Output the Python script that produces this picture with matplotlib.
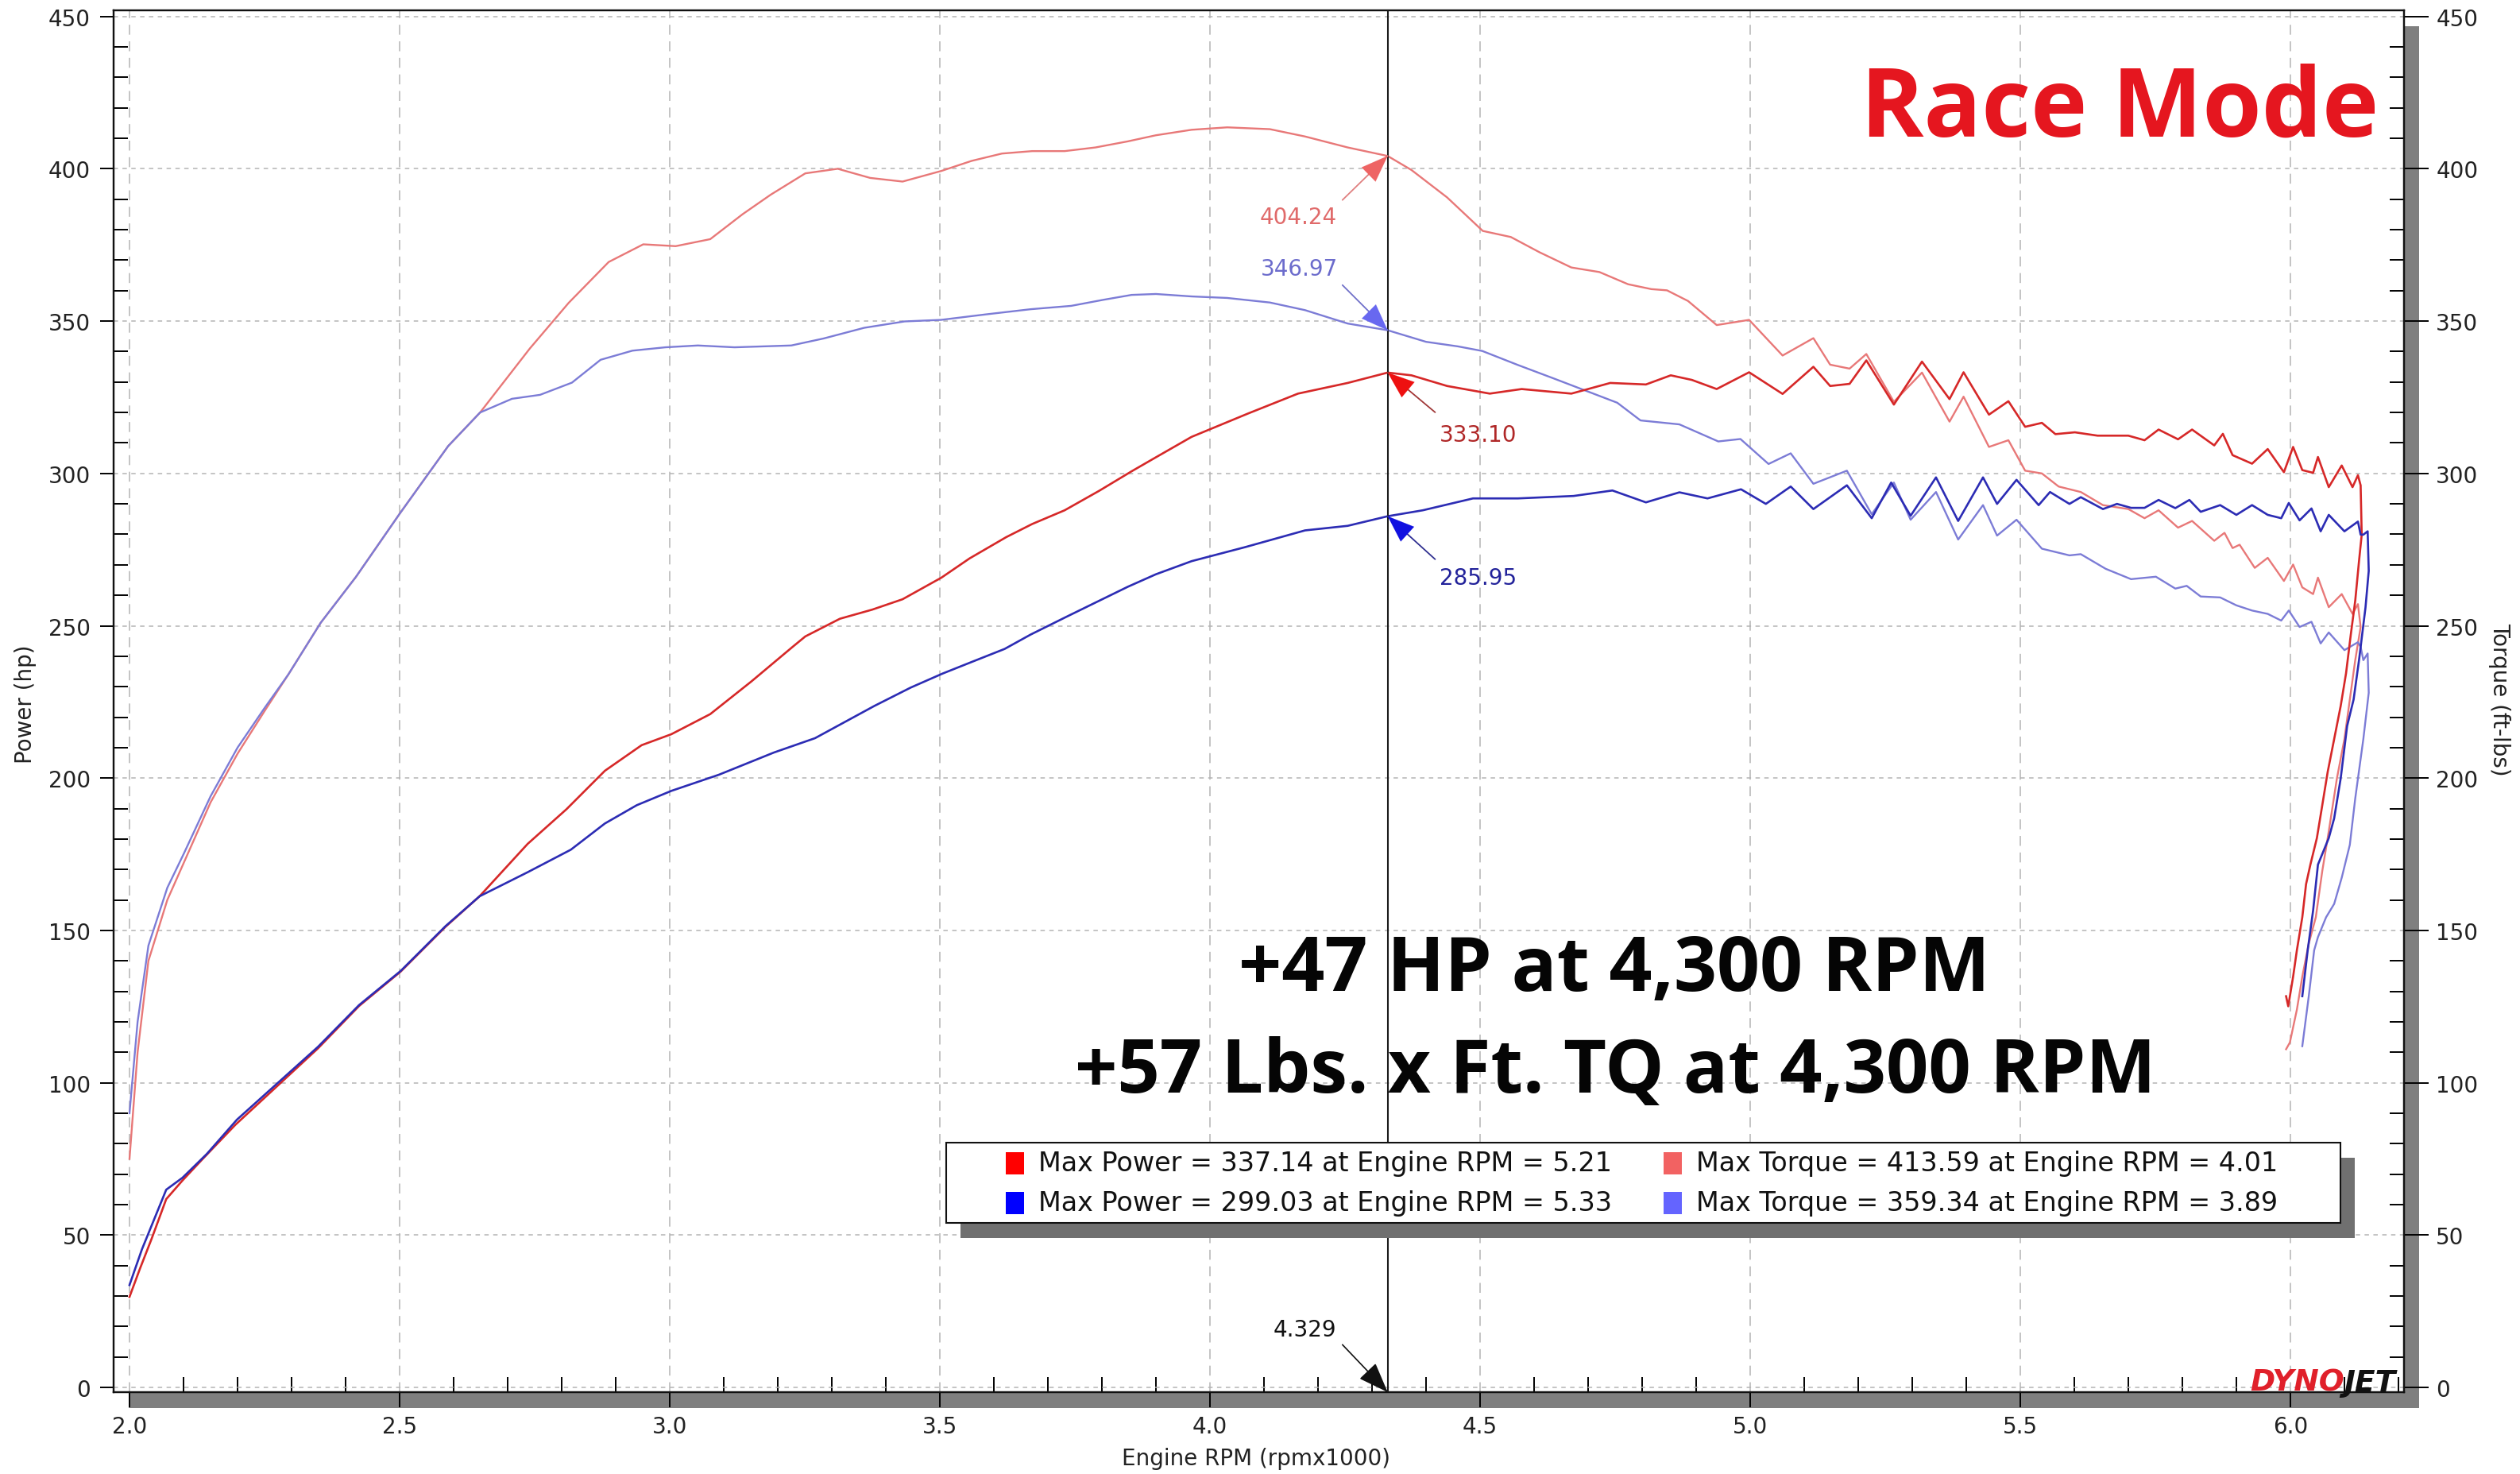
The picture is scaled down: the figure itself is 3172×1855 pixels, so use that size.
import matplotlib
matplotlib.use("Agg")
import matplotlib.pyplot as plt
from matplotlib.patches import Rectangle
from matplotlib.ticker import MultipleLocator, FormatStrFormatter

plt.rcParams['lines.scale_dashes'] = False
plt.rcParams['font.family'] = ['DejaVu Sans']

# ---------------- data (read from the dyno sheet) ----------------
# Run 1 (red) power, hp
red_power_rpm = [2.000, 2.019, 2.041, 2.068, 2.098, 2.135, 2.196, 2.349, 2.425, 2.502, 2.585, 2.648,
                 2.737, 2.809, 2.880, 2.948, 3.003, 3.075, 3.151, 3.227, 3.251, 3.315, 3.375, 3.431,
                 3.503, 3.555, 3.623, 3.671, 3.731, 3.795, 3.855, 3.900, 3.966, 4.071, 4.163, 4.255,
                 4.329, 4.373, 4.439, 4.518, 4.577, 4.669, 4.741, 4.807, 4.853, 4.892, 4.938, 4.998,
                 5.060, 5.117, 5.148, 5.184, 5.215, 5.266, 5.318, 5.369, 5.395, 5.442, 5.478, 5.509,
                 5.540, 5.565, 5.601, 5.643, 5.700, 5.730, 5.756, 5.792, 5.818, 5.859, 5.875, 5.893,
                 5.929, 5.958, 5.988, 6.005, 6.022, 6.042, 6.051, 6.071, 6.095, 6.115, 6.125, 6.130,
                 6.132, 6.127, 6.120, 6.112, 6.103, 6.093, 6.081, 6.069, 6.059, 6.049, 6.037, 6.029,
                 6.022, 6.012, 6.005, 5.996, 5.992]
red_power_hp = [29.7, 38.8, 48.8, 61.8, 67.9, 74.9, 86.2, 111.3, 125.2, 136.5, 151.2, 161.2,
                178.4, 189.8, 202.4, 210.8, 214.4, 221.0, 231.7, 243.0, 246.5, 252.3, 255.3, 258.7,
                265.8, 272.1, 279.1, 283.4, 287.9, 294.3, 300.7, 305.3, 312.0, 319.7, 326.2, 329.7,
                333.1, 332.2, 328.7, 326.2, 327.7, 326.2, 329.7, 329.2, 332.2, 330.7, 327.7, 333.2,
                326.1, 335.0, 328.7, 329.4, 337.1, 322.6, 336.7, 324.4, 333.2, 319.3, 323.7, 315.3,
                316.6, 312.9, 313.5, 312.4, 312.4, 310.9, 314.4, 311.2, 314.4, 309.2, 313.0, 306.0,
                303.2, 308.0, 300.4, 308.7, 301.1, 300.2, 305.4, 295.5, 302.6, 295.5, 299.4, 296.1,
                279.9, 271.2, 258.2, 247.4, 234.4, 223.6, 212.8, 202.0, 191.1, 180.3, 171.6, 165.2,
                154.3, 143.5, 134.8, 125.1, 128.4]

# Run 1 (light red) torque, ft-lbs
red_torque_rpm = [2.000, 2.015, 2.035, 2.070, 2.100, 2.150, 2.200, 2.250, 2.294, 2.354, 2.419, 2.501,
                  2.590, 2.649, 2.741, 2.813, 2.887, 2.951, 3.011, 3.075, 3.135, 3.187, 3.251, 3.311,
                  3.371, 3.431, 3.503, 3.559, 3.615, 3.671, 3.731, 3.788, 3.848, 3.900, 3.966, 4.032,
                  4.111, 4.176, 4.255, 4.329, 4.373, 4.439, 4.505, 4.557, 4.610, 4.669, 4.721, 4.774,
                  4.817, 4.846, 4.885, 4.938, 4.998, 5.060, 5.117, 5.148, 5.184, 5.215, 5.266, 5.318,
                  5.369, 5.395, 5.442, 5.478, 5.509, 5.540, 5.571, 5.612, 5.653, 5.700, 5.730, 5.756,
                  5.792, 5.818, 5.859, 5.878, 5.893, 5.906, 5.934, 5.958, 5.988, 6.005, 6.022, 6.042,
                  6.051, 6.071, 6.095, 6.115, 6.125, 6.130, 6.120, 6.110, 6.100, 6.086, 6.071, 6.059,
                  6.047, 6.034, 6.022, 6.012, 5.999, 5.992]
red_torque_ftlb = [75.0, 110.0, 140.0, 160.0, 172.0, 192.0, 208.0, 222.0, 234.0, 251.0, 266.0, 287.0,
                   309.0, 320.0, 341.0, 356.0, 369.4, 375.2, 374.6, 376.9, 385.1, 391.5, 398.5, 400.0,
                   397.0, 395.8, 399.3, 402.6, 405.0, 405.8, 405.8, 407.0, 409.0, 411.0, 412.8, 413.6,
                   413.0, 410.6, 407.0, 404.2, 399.6, 390.6, 379.6, 377.6, 372.6, 367.6, 366.1, 362.1,
                   360.5, 360.1, 356.6, 348.7, 350.4, 338.7, 344.4, 335.7, 334.4, 339.2, 323.5, 333.1,
                   317.0, 325.2, 308.7, 310.9, 300.9, 300.0, 295.7, 293.9, 289.6, 288.3, 285.3, 287.9,
                   282.2, 284.4, 277.9, 280.5, 275.5, 276.6, 269.0, 272.3, 264.7, 270.1, 262.6, 260.4,
                   265.8, 256.1, 260.4, 253.9, 257.1, 249.6, 238.7, 225.8, 212.8, 199.8, 182.5, 169.5,
                   154.3, 145.7, 134.8, 124.0, 113.2, 111.0]

# Run 2 (blue) power, hp
blue_power_rpm = [2.000, 2.023, 2.068, 2.098, 2.143, 2.199, 2.349, 2.425, 2.502, 2.585, 2.648, 2.737,
                  2.817, 2.880, 2.939, 3.003, 3.091, 3.193, 3.269, 3.379, 3.446, 3.505, 3.563, 3.620,
                  3.668, 3.735, 3.788, 3.848, 3.900, 3.966, 4.065, 4.176, 4.255, 4.329, 4.394, 4.487,
                  4.570, 4.673, 4.745, 4.807, 4.869, 4.921, 4.983, 5.029, 5.075, 5.117, 5.179, 5.225,
                  5.261, 5.297, 5.344, 5.385, 5.431, 5.457, 5.493, 5.534, 5.555, 5.591, 5.612, 5.653,
                  5.679, 5.705, 5.730, 5.756, 5.787, 5.813, 5.834, 5.870, 5.900, 5.929, 5.958, 5.983,
                  5.997, 6.017, 6.039, 6.056, 6.071, 6.100, 6.125, 6.130, 6.135, 6.143, 6.145, 6.139,
                  6.127, 6.117, 6.105, 6.093, 6.081, 6.071, 6.051, 6.042, 6.032, 6.022]
blue_power_hp = [33.6, 45.3, 64.9, 68.8, 76.6, 87.9, 111.8, 125.5, 136.7, 151.4, 161.2, 169.1,
                 176.5, 185.1, 191.1, 195.8, 201.1, 208.4, 213.1, 223.7, 229.7, 234.3, 238.4, 242.4,
                 247.1, 253.0, 257.6, 262.8, 266.9, 271.2, 275.8, 281.3, 282.8, 285.95, 287.9, 291.8,
                 291.8, 292.6, 294.4, 290.5, 293.8, 291.8, 294.8, 290.0, 295.7, 288.3, 296.1, 285.3,
                 297.0, 286.1, 298.7, 284.4, 298.7, 290.0, 297.9, 289.6, 293.9, 290.0, 292.2, 288.3,
                 290.0, 288.7, 288.7, 291.3, 288.6, 291.3, 287.4, 289.6, 286.4, 289.6, 286.4, 285.3,
                 290.3, 284.6, 288.5, 281.0, 286.4, 281.0, 284.2, 279.9, 279.9, 281.0, 268.0, 256.0,
                 238.7, 225.8, 217.1, 199.8, 186.8, 180.3, 171.6, 156.5, 143.5, 128.4]

# Run 2 (light blue) torque, ft-lbs
blue_torque_rpm = [2.000, 2.015, 2.035, 2.070, 2.100, 2.150, 2.200, 2.250, 2.294, 2.354, 2.419, 2.501,
                   2.590, 2.649, 2.708, 2.760, 2.819, 2.872, 2.931, 2.992, 3.052, 3.120, 3.225, 3.285,
                   3.360, 3.435, 3.502, 3.585, 3.668, 3.743, 3.803, 3.855, 3.900, 3.966, 4.032, 4.111,
                   4.176, 4.255, 4.329, 4.400, 4.459, 4.504, 4.570, 4.636, 4.695, 4.754, 4.797, 4.869,
                   4.941, 4.982, 5.034, 5.075, 5.117, 5.179, 5.225, 5.266, 5.297, 5.344, 5.385, 5.431,
                   5.457, 5.493, 5.540, 5.591, 5.612, 5.658, 5.705, 5.751, 5.787, 5.808, 5.834, 5.870,
                   5.900, 5.929, 5.958, 5.983, 5.997, 6.017, 6.039, 6.056, 6.071, 6.100, 6.125, 6.130,
                   6.135, 6.143, 6.145, 6.135, 6.120, 6.110, 6.095, 6.081, 6.066, 6.051, 6.044, 6.034,
                   6.022]
blue_torque_ftlb = [90.0, 120.0, 145.0, 164.0, 175.0, 194.0, 210.0, 223.0, 234.0, 251.0, 266.0, 287.0,
                    309.0, 320.0, 324.5, 325.8, 329.8, 337.3, 340.3, 341.4, 342.0, 341.4, 342.0, 344.3,
                    347.8, 349.9, 350.4, 352.2, 353.9, 355.0, 357.0, 358.6, 358.9, 358.1, 357.6, 356.1,
                    353.6, 349.2, 347.0, 343.2, 341.7, 340.2, 335.6, 331.2, 327.2, 323.2, 317.4, 316.1,
                    310.5, 311.3, 303.1, 306.6, 296.6, 300.9, 286.6, 297.0, 284.8, 293.9, 278.3, 289.6,
                    279.6, 284.8, 275.3, 273.1, 273.5, 268.7, 265.3, 266.1, 262.2, 263.1, 259.6, 259.3,
                    256.7, 255.0, 253.9, 251.7, 255.0, 249.6, 251.3, 244.2, 247.8, 242.0, 244.6, 243.1,
                    238.7, 240.9, 228.0, 212.8, 193.3, 178.1, 167.3, 158.7, 154.3, 147.8, 143.5, 128.4,
                    112.0]

# cursor readout
cursor_rpm = 4.329
cursor_labels = ["404.24", "346.97", "333.10", "285.95"]
cursor_values = [404.24, 346.97, 333.10, 285.95]

# legend summary
max_power = [337.14, 299.03]
max_power_rpm = [5.21, 5.33]
max_torque = [413.59, 359.34]
max_torque_rpm = [4.01, 3.89]

x_ticks = [2.0, 2.5, 3.0, 3.5, 4.0, 4.5, 5.0, 5.5, 6.0]
y_ticks = [0, 50, 100, 150, 200, 250, 300, 350, 400, 450]

# ---------------- styling ----------------
C_RED = '#D62828'
C_LRED = '#E87878'
C_BLUE = '#2C2CB4'
C_LBLUE = '#7C7CD6'
PATCH = ['#FF0000', '#F26262', '#0000FF', '#6464FF']

W, H = 3172, 1856
fig = plt.figure(figsize=(W / 100, H / 100), dpi=100)
fig.patch.set_facecolor('white')


def fx(px):
    return px / W


def fy(py):
    return 1 - py / H


# plot area (pixel box 143..3026 x 14..1753)
L, R, T, B = 143, 3026, 14, 1753
ax = fig.add_axes([fx(L), fy(B), (R - L) / W, (B - T) / H])
ax.set_facecolor('white')
ax.set_zorder(1)

# drop shadow of the plot area
fig.add_artist(Rectangle((fx(L + 19), fy(B + 20)), (R - L) / W, (B - T) / H,
                         transform=fig.transFigure, fc='#7f7f7f', ec='none', zorder=0))

XMIN, XMAX = 2.0 + (L - 163) / 680, 2.0 + (R - 163) / 680
YMIN, YMAX = (1747 - B) / 3.834, (1747 - T) / 3.834
ax.set_xlim(XMIN, XMAX)
ax.set_ylim(YMIN, YMAX)

ax2 = ax.twinx()
ax2.set_ylim(YMIN, YMAX)

for s in ax.spines.values():
    s.set_linewidth(1.6)
    s.set_color('#111111')

# grid
ax.set_xticks(x_ticks)
ax.set_yticks(y_ticks)
ax.xaxis.set_minor_locator(MultipleLocator(0.1))
ax.yaxis.set_minor_locator(MultipleLocator(10))
ax.xaxis.set_major_formatter(FormatStrFormatter('%.1f'))
ax.grid(True, axis='y', which='major', color='#b4b4b4', lw=1.1, ls=(0, (4, 4)))
ax.grid(True, axis='x', which='major', color='#b4b4b4', lw=1.1, ls=(0, (9, 6)))
ax.set_axisbelow(True)

ax.tick_params(axis='x', which='major', direction='out', length=14, width=1.4,
               pad=7, labelsize=20, labelcolor='#222222')
ax.tick_params(axis='x', which='minor', direction='in', length=14, width=1.4)
ax.tick_params(axis='y', which='major', direction='out', length=12, width=1.4,
               pad=9, labelsize=20, labelcolor='#222222')
ax.tick_params(axis='y', which='minor', direction='in', length=13, width=1.4)

ax2.set_yticks(y_ticks)
ax2.yaxis.set_minor_locator(MultipleLocator(10))
ax2.tick_params(axis='y', which='major', direction='out', length=22, width=1.4,
                pad=7, labelsize=20, labelcolor='#222222')
ax2.tick_params(axis='y', which='minor', direction='in', length=13, width=1.4)
for s in ax2.spines.values():
    s.set_linewidth(1.6)
    s.set_color('#111111')

ax.set_xlabel('Engine RPM (rpmx1000)', fontsize=20, color='#222222')
ax.xaxis.set_label_coords(0.4987, -0.0395)
ax.set_ylabel('Power (hp)', fontsize=20, color='#222222')
ax.yaxis.set_label_coords(-0.0335, 0.4986)
ax2.set_ylabel('Torque (ft-lbs)', fontsize=20, color='#222222', rotation=270,
               va='center', ha='center')
ax2.yaxis.set_label_coords(1.0418, 0.502)

# curves
ax2.plot(red_torque_rpm, red_torque_ftlb, color=C_LRED, lw=1.7, zorder=3)
ax2.plot(blue_torque_rpm, blue_torque_ftlb, color=C_LBLUE, lw=1.7, zorder=3)
ax2.plot(red_power_rpm, red_power_hp, color=C_RED, lw=1.9, zorder=4)
ax2.plot(blue_power_rpm, blue_power_hp, color=C_BLUE, lw=1.9, zorder=4)

# cursor
ax2.axvline(cursor_rpm, color='#1a1a1a', lw=1.5, zorder=5)

arrow_cols = ['#EE6464', '#6868F0', '#EE1010', '#1010E0']
line_cols = ['#E08080', '#7070C8', '#A03838', '#303090']
text_cols = ['#E06A6A', '#6C6CCC', '#B02828', '#22229A']
arrow_off = [(-41, -40), (-41, 41), (43, -36), (43, -39)]
text_off = [(-81, -55), (-80, 56), (82, -56), (82, -56)]
for lab, val, ac, lc, tc, ao, to in zip(cursor_labels, cursor_values, arrow_cols, line_cols,
                                       text_cols, arrow_off, text_off):
    ax2.annotate('', xy=(cursor_rpm, val), xytext=ao, textcoords='offset points',
                 arrowprops=dict(arrowstyle='-', color=lc, lw=1.3, shrinkA=0, shrinkB=0), zorder=6)
    ax2.annotate('', xy=(cursor_rpm, val), xytext=(ao[0] * 0.55, ao[1] * 0.55),
                 textcoords='offset points',
                 arrowprops=dict(arrowstyle='-|>,head_length=0.8,head_width=0.3',
                                 mutation_scale=30, color=ac, lw=0.1, shrinkA=0, shrinkB=0), zorder=6)
    ax2.annotate(lab, xy=(cursor_rpm, val), xytext=to, textcoords='offset points',
                 ha='center', va='center', fontsize=20, color=tc, zorder=6)

ax2.annotate('', xy=(cursor_rpm, 0), xycoords=('data', 'axes fraction'),
             xytext=(-41, 43), textcoords='offset points',
             arrowprops=dict(arrowstyle='-|>,head_length=0.8,head_width=0.3', mutation_scale=30,
                             color='#111111', lw=1.2, shrinkA=0, shrinkB=0), zorder=6)
ax2.annotate(f'{cursor_rpm:.3f}', xy=(cursor_rpm, 0), xycoords=('data', 'axes fraction'),
             xytext=(-75, 57), textcoords='offset points', ha='center', va='center',
             fontsize=20, color='#111111', zorder=6)

# legend box (drawn on top, with its own shadow)
LB_L, LB_T, LB_R, LB_B = 1191, 1439, 2946, 1540
fig.add_artist(Rectangle((fx(LB_L + 18), fy(LB_B + 19)), (LB_R - LB_L) / W, (LB_B - LB_T) / H,
                         transform=fig.transFigure, fc='#707070', ec='none', zorder=10))
fig.add_artist(Rectangle((fx(LB_L), fy(LB_B)), (LB_R - LB_L) / W, (LB_B - LB_T) / H,
                         transform=fig.transFigure, fc='white', ec='#111111', lw=1.5, zorder=11))
rows_y = [1465, 1515]
col_patch_x = [1266, 2094]
col_text_x = [1307, 2135]
entries = [
    (0, 0, PATCH[0], f'Max Power = {max_power[0]:.2f} at Engine RPM = {max_power_rpm[0]:.2f}'),
    (0, 1, PATCH[1], f'Max Torque = {max_torque[0]:.2f} at Engine RPM = {max_torque_rpm[0]:.2f}'),
    (1, 0, PATCH[2], f'Max Power = {max_power[1]:.2f} at Engine RPM = {max_power_rpm[1]:.2f}'),
    (1, 1, PATCH[3], f'Max Torque = {max_torque[1]:.2f} at Engine RPM = {max_torque_rpm[1]:.2f}'),
]
for r, c, col, txt in entries:
    fig.add_artist(Rectangle((fx(col_patch_x[c]), fy(rows_y[r] + 14)), 23 / W, 28 / H,
                             transform=fig.transFigure, fc=col, ec='none', zorder=12))
    fig.text(fx(col_text_x[c]), fy(rows_y[r]), txt, fontsize=24, color='#111111',
             ha='left', va='center', zorder=12)

# headline texts
race = fig.text(fx(2668), fy(172), 'Race Mode', fontsize=88, fontweight='bold',
                family=['Open Sans', 'DejaVu Sans'], color='#E5161F', ha='center',
                va='baseline', zorder=12)
l1 = fig.text(fx(2032), fy(1247), '+47 HP at 4,300 RPM', fontsize=70, fontweight='bold',
              family=['Open Sans', 'DejaVu Sans'], color='#050505', ha='center',
              va='baseline', zorder=12)
l2 = fig.text(fx(2033), fy(1375), '+57 Lbs. x Ft. TQ at 4,300 RPM', fontsize=70,
              fontweight='bold', family=['Open Sans', 'DejaVu Sans'], color='#050505',
              ha='center', va='baseline', zorder=12)

renderer = fig.canvas.get_renderer()
for t, target in [(race, 653), (l1, 947), (l2, 1361)]:
    w = t.get_window_extent(renderer).width
    t.set_fontsize(t.get_fontsize() * target / w)

# DYNOJET logo
d1 = fig.text(fx(2832), fy(1751), 'DYNO', fontsize=27, fontweight='bold', style='italic',
              color='#E0202A', ha='left', va='baseline', zorder=12)
fig.canvas.draw()
bb = d1.get_window_extent(renderer)
fig.text(bb.x1 / W, fy(1751), 'JET', fontsize=27, fontweight='bold', style='italic',
         color='#111111', ha='left', va='baseline', zorder=12)

fig.savefig('out.png', dpi=100, facecolor='white')
